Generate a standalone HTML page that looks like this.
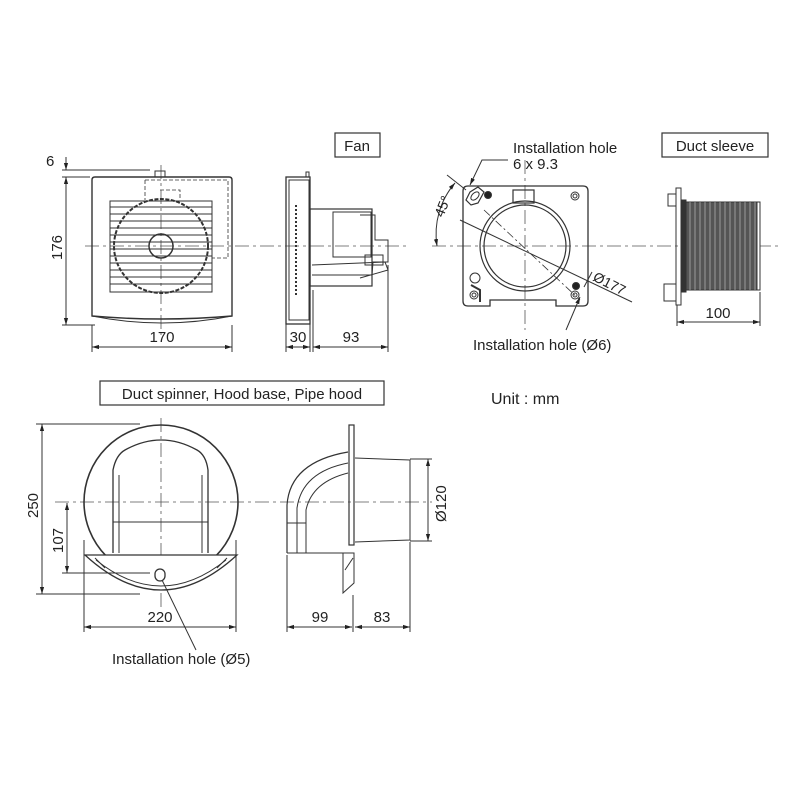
<!DOCTYPE html>
<html><head><meta charset="utf-8"><style>
html,body{margin:0;padding:0;background:#fff}
svg{display:block}
text{font-family:"Liberation Sans",sans-serif;fill:#222}
</style></head><body>
<svg width="800" height="800" viewBox="0 0 800 800" xmlns="http://www.w3.org/2000/svg">
<defs>
<marker id="a" viewBox="0 0 10 10" refX="10" refY="5" markerWidth="7" markerHeight="7" orient="auto-start-reverse"><path d="M0,2 L10,5 L0,8 z" fill="#222"/></marker>
</defs>
<g fill="none" stroke="#333" stroke-width="1">
<g stroke-dasharray="14,4,3,4" stroke="#555" stroke-width="0.8">
<line x1="85" y1="246" x2="410" y2="246"/>
<line x1="161" y1="165" x2="161" y2="335"/>
<line x1="432" y1="246" x2="780" y2="246"/>
<line x1="525" y1="160" x2="525" y2="330"/>
<line x1="55" y1="502" x2="432" y2="502"/>
<line x1="161" y1="418" x2="161" y2="610"/>
</g>
<path d="M92,180 Q92,177 95,177 L229,177 Q232,177 232,180 L232,316 Q162,322 92,316 Z" stroke-width="1.4"/>
<path d="M92,316 Q162,330 232,316" />
<rect x="155" y="171" width="10" height="6"/>
<path d="M145,180 L228,180 L228,258 L212,258 M145,180 L145,200 M160,190 L180,190 L180,200" stroke-dasharray="4,2" stroke-width="0.8"/>
<rect x="110" y="201" width="102" height="91"/>
<g stroke-width="0.9">
<line x1="110" y1="207" x2="212" y2="207"/><line x1="110" y1="214" x2="212" y2="214"/>
<line x1="110" y1="221" x2="212" y2="221"/><line x1="110" y1="228" x2="212" y2="228"/>
<line x1="110" y1="235" x2="212" y2="235"/><line x1="110" y1="242" x2="212" y2="242"/>
<line x1="110" y1="249" x2="212" y2="249"/><line x1="110" y1="256" x2="212" y2="256"/>
<line x1="110" y1="263" x2="212" y2="263"/><line x1="110" y1="270" x2="212" y2="270"/>
<line x1="110" y1="277" x2="212" y2="277"/><line x1="110" y1="284" x2="212" y2="284"/>
</g>
<circle cx="161" cy="246" r="47" stroke-width="2" stroke-dasharray="4,1.5"/>
<circle cx="161" cy="246" r="12" stroke-width="1.5"/>
<line x1="62" y1="170" x2="150" y2="170"/><line x1="62" y1="177" x2="90" y2="177"/>
<line x1="62" y1="325" x2="95" y2="325"/>
<line x1="66" y1="157" x2="66" y2="170" marker-end="url(#a)"/>
<line x1="66" y1="177" x2="66" y2="325" marker-start="url(#a)" marker-end="url(#a)"/>
<line x1="92" y1="325" x2="92" y2="352"/><line x1="232" y1="325" x2="232" y2="352"/>
<line x1="92" y1="347" x2="232" y2="347" marker-start="url(#a)" marker-end="url(#a)"/>
<rect x="286" y="177" width="24" height="147" stroke-width="1.3"/>
<rect x="289" y="180" width="20" height="140"/>
<path d="M306,177 L306,172 L309,172 L309,177"/>
<line x1="296" y1="205" x2="296" y2="295" stroke-dasharray="2,2" stroke-width="2"/>
<rect x="310" y="209" width="62" height="77" stroke-width="1.2"/>
<rect x="333" y="212" width="38" height="45"/>
<path d="M360,215 L375,215 L375,240 L388,240 L388,262 L373,262 L372,275 L312,275"/>
<path d="M312,265 L385,262 L388,270 L360,278"/>
<rect x="365" y="255" width="18" height="10"/>
<line x1="286" y1="324" x2="286" y2="352"/><line x1="310" y1="324" x2="310" y2="352"/>
<line x1="313" y1="290" x2="313" y2="352"/><line x1="388" y1="265" x2="388" y2="352"/>
<line x1="286" y1="347" x2="310" y2="347" marker-start="url(#a)" marker-end="url(#a)"/>
<line x1="313" y1="347" x2="388" y2="347" marker-start="url(#a)" marker-end="url(#a)"/>
<rect x="335" y="133" width="45" height="24" stroke-width="1.2"/>
<path d="M468,186 L583,186 Q588,186 588,191 L588,301 Q588,306 583,306 L556,306 L556,300 L490,300 L490,306 L468,306 Q463,306 463,301 L463,191 Q463,186 468,186 Z" stroke-width="1.3"/>
<circle cx="525" cy="246" r="45" stroke-width="1.2"/>
<circle cx="525" cy="246" r="41" stroke-width="1.2"/>
<rect x="513" y="190" width="21" height="13" stroke-width="1.2"/>
<path d="M470,192 L478,187 L484,192 L478,203 L471,205 L466,200 Z" stroke-width="1.2"/>
<ellipse cx="475" cy="196" rx="5" ry="3" transform="rotate(-45 475 196)"/>
<circle cx="488" cy="195" r="3.5" fill="#222"/>
<circle cx="575" cy="196" r="4"/><circle cx="575" cy="196" r="2"/>
<circle cx="474" cy="295" r="4"/><circle cx="474" cy="295" r="2"/>
<circle cx="575" cy="295" r="4"/><circle cx="575" cy="295" r="2"/>
<circle cx="576" cy="286" r="3.5" fill="#222"/>
<circle cx="475" cy="278" r="5"/>
<path d="M471,285 L480,290 L480,302" stroke-width="2"/>
<line x1="460" y1="220" x2="632" y2="302"/>
<line x1="484" y1="210" x2="580" y2="300" stroke-dasharray="8,3,2,3" stroke-width="0.8"/>
<path d="M455,183 A78,78 0 0 0 437,246" marker-start="url(#a)" marker-end="url(#a)"/>
<line x1="447" y1="175" x2="466" y2="190"/>
<path d="M508,160 L482,160 L470,185" marker-end="url(#a)"/>
<line x1="580" y1="297" x2="566" y2="330" marker-start="url(#a)"/>
<line x1="584" y1="287" x2="592" y2="272"/>
<rect x="662" y="133" width="106" height="24" stroke-width="1.2"/>
<rect x="676" y="188" width="5" height="117"/>
<rect x="668" y="194" width="8" height="12"/>
<rect x="664" y="284" width="12" height="17"/>
<rect x="681" y="200" width="5" height="92" fill="#333"/>
<rect x="686" y="202" width="72" height="88" fill="#555"/>
<g stroke="#ccc" stroke-width="0.6">
<line x1="690" y1="202" x2="690" y2="290"/><line x1="695" y1="202" x2="695" y2="290"/><line x1="700" y1="202" x2="700" y2="290"/><line x1="705" y1="202" x2="705" y2="290"/><line x1="710" y1="202" x2="710" y2="290"/><line x1="715" y1="202" x2="715" y2="290"/><line x1="720" y1="202" x2="720" y2="290"/><line x1="725" y1="202" x2="725" y2="290"/><line x1="730" y1="202" x2="730" y2="290"/><line x1="735" y1="202" x2="735" y2="290"/><line x1="740" y1="202" x2="740" y2="290"/><line x1="745" y1="202" x2="745" y2="290"/><line x1="750" y1="202" x2="750" y2="290"/><line x1="755" y1="202" x2="755" y2="290"/>
</g>
<rect x="757" y="202" width="3" height="88" fill="#fff"/>
<line x1="677" y1="305" x2="677" y2="326"/><line x1="760" y1="292" x2="760" y2="326"/>
<line x1="677" y1="322" x2="760" y2="322" marker-start="url(#a)" marker-end="url(#a)"/>
<rect x="100" y="381" width="284" height="24" stroke-width="1.2"/>
<circle cx="161" cy="502" r="77" stroke-width="1.6"/>
<path d="M85,555 Q161,625 237,555 Z" fill="#fff" stroke-width="1.3"/>
<path d="M96,560 Q161,612 226,560" stroke-width="1"/>
<path d="M95,558 L105,568 M227,558 L217,568" stroke-width="1"/>
<path d="M113,553 L113,470 Q116,455 125,450 Q161,430 197,450 Q206,455 208,470 L208,553" stroke-width="1.3"/>
<line x1="119" y1="475" x2="119" y2="553"/><line x1="202" y1="475" x2="202" y2="553"/>
<line x1="113" y1="522" x2="208" y2="522"/>
<rect x="155" y="569" width="10" height="12" rx="5" stroke-width="1.3"/>
<line x1="36" y1="424" x2="140" y2="424"/><line x1="36" y1="594" x2="140" y2="594"/>
<line x1="42" y1="424" x2="42" y2="594" marker-start="url(#a)" marker-end="url(#a)"/>
<line x1="62" y1="573" x2="150" y2="573"/>
<line x1="67" y1="503" x2="67" y2="573" marker-start="url(#a)" marker-end="url(#a)"/>
<line x1="84" y1="540" x2="84" y2="632"/><line x1="236" y1="540" x2="236" y2="632"/>
<line x1="84" y1="627" x2="236" y2="627" marker-start="url(#a)" marker-end="url(#a)"/>
<line x1="162" y1="580" x2="196" y2="650"/>
<rect x="349" y="425" width="5" height="120" stroke-width="1.2"/>
<path d="M287,553 L287,505 Q290,462 348,452" stroke-width="1.2"/>
<path d="M297,553 L297,508 Q302,472 348,463"/>
<path d="M306,553 L306,510 Q312,482 348,473"/>
<line x1="287" y1="523" x2="306" y2="523"/>
<line x1="287" y1="553" x2="349" y2="553"/>
<path d="M343,553 L354,553 L354,583 L343,593 Z"/>
<line x1="345" y1="570" x2="353" y2="558"/>
<path d="M355,458 L410,460 L410,540 L355,542"/>
<line x1="410" y1="459" x2="432" y2="459"/><line x1="410" y1="541" x2="432" y2="541"/>
<line x1="428" y1="459" x2="428" y2="541" marker-start="url(#a)" marker-end="url(#a)"/>
<line x1="287" y1="555" x2="287" y2="632"/><line x1="353" y1="595" x2="353" y2="632"/><line x1="410" y1="542" x2="410" y2="632"/>
<line x1="287" y1="627" x2="352" y2="627" marker-start="url(#a)" marker-end="url(#a)"/>
<line x1="355" y1="627" x2="410" y2="627" marker-start="url(#a)" marker-end="url(#a)"/>
</g>
<g font-size="15">
<text x="46" y="166">6</text>
<text x="62" y="260" transform="rotate(-90 62 260)" text-anchor="start">176</text>
<text x="162" y="342" text-anchor="middle">170</text>
<text x="298" y="342" text-anchor="middle">30</text>
<text x="351" y="342" text-anchor="middle">93</text>
<text x="357" y="151" text-anchor="middle">Fan</text>
<text x="513" y="153">Installation hole</text>
<text x="513" y="169">6 x 9.3</text>
<text x="443" y="218" transform="rotate(-68 443 218)" font-size="14">45°</text>
<text x="592" y="280" transform="rotate(27 592 280)" font-size="14">Ø177</text>
<text x="473" y="350">Installation hole (Ø6)</text>
<text x="715" y="151" text-anchor="middle">Duct sleeve</text>
<text x="718" y="318" text-anchor="middle">100</text>
<text x="491" y="404" font-size="16">Unit : mm</text>
<text x="242" y="399" text-anchor="middle">Duct spinner, Hood base, Pipe hood</text>
<text x="38" y="518" transform="rotate(-90 38 518)">250</text>
<text x="63" y="553" transform="rotate(-90 63 553)">107</text>
<text x="160" y="622" text-anchor="middle">220</text>
<text x="112" y="664">Installation hole (Ø5)</text>
<text x="446" y="522" transform="rotate(-90 446 522)">Ø120</text>
<text x="320" y="622" text-anchor="middle">99</text>
<text x="382" y="622" text-anchor="middle">83</text>
</g>
</svg>
</body></html>
